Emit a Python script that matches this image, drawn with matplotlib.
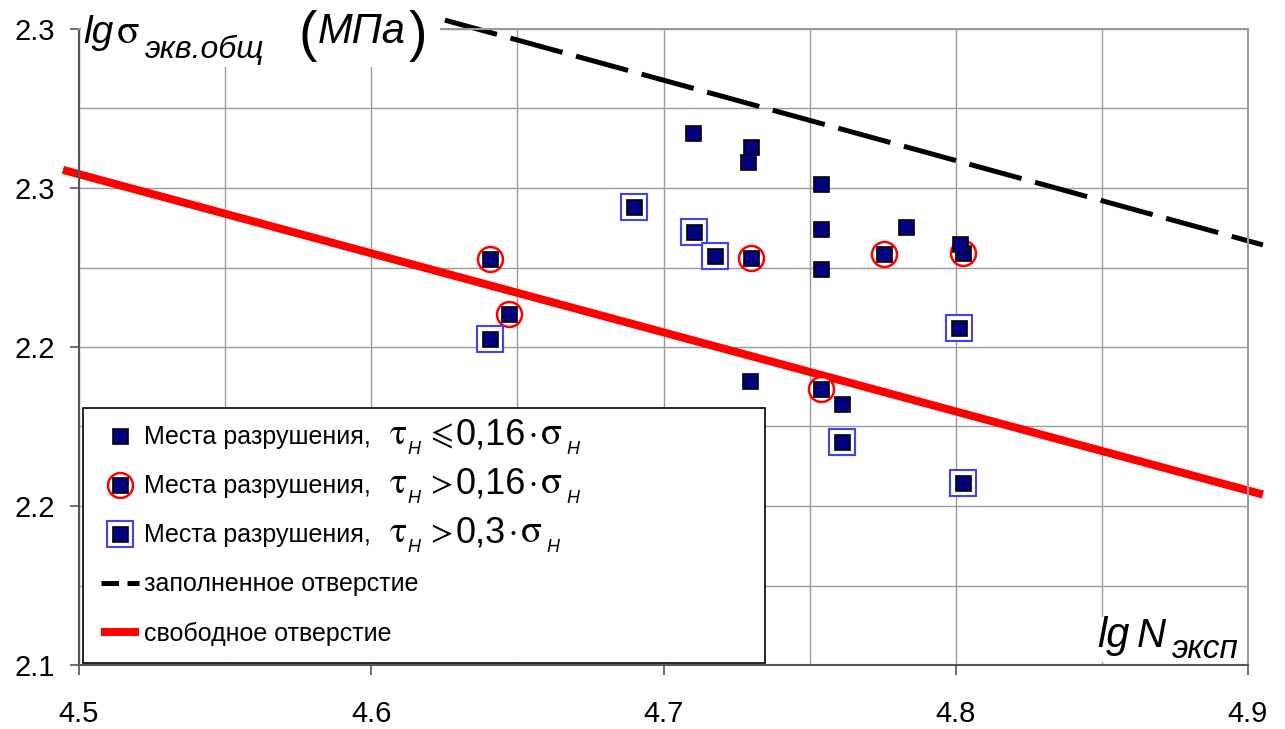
import matplotlib
matplotlib.use('Agg')
import matplotlib.pyplot as plt
from matplotlib.lines import Line2D
from matplotlib.patches import Rectangle
from matplotlib.ticker import MultipleLocator

# ---------------- data ----------------
x_ticks = [4.5, 4.6, 4.7, 4.8, 4.9]
x_tick_labels = ['4.5', '4.6', '4.7', '4.8', '4.9']
y_ticks = [2.1, 2.15, 2.2, 2.25, 2.3]
y_tick_labels = ['2.1', '2.2', '2.2', '2.3', '2.3']

# failure sites, tau <= 0.16 sigma
plain_x = [4.710, 4.730, 4.729, 4.754, 4.754, 4.783, 4.754, 4.8015, 4.7295, 4.761]
plain_y = [2.2673, 2.2629, 2.2582, 2.2513, 2.2371, 2.2378, 2.2246, 2.2324, 2.1894, 2.1821]

# failure sites, tau > 0.16 sigma
red_x = [4.6405, 4.647, 4.730, 4.7755, 4.8025, 4.754]
red_y = [2.2277, 2.2104, 2.2280, 2.2293, 2.2296, 2.1869]

# failure sites, tau > 0.3 sigma
blue_x = [4.690, 4.7105, 4.7175, 4.6405, 4.801, 4.761, 4.8025]
blue_y = [2.2441, 2.2362, 2.2287, 2.2026, 2.2060, 2.1702, 2.1573]

# filled hole (dashed) and free hole (red) lines
filled_x = [4.6252, 4.9051]
filled_y = [2.3028, 2.2321]
free_x = [4.4945, 4.9051]
free_y = [2.2557, 2.1536]

legend_labels = ['Места разрушения,', 'Места разрушения,', 'Места разрушения,',
                 'заполненное отверстие', 'свободное отверстие']
legend_relations = ['⩽', '>', '>']
legend_factors = ['0,16', '0,16', '0,3']

# ---------------- figure ----------------
W, H = 1285, 729
fig = plt.figure(figsize=(W / 100, H / 100), dpi=100)
fig.patch.set_facecolor('white')
L, R, T, B = 79, 1248, 29, 665
ax = fig.add_axes([L / W, 1 - B / H, (R - L) / W, (B - T) / H])
ax.set_xlim(4.5, 4.9)
ax.set_ylim(2.1, 2.3)

NAVY = '#000080'
RED = '#ff0000'
BLUE = '#4040ff'
SANS = 'Liberation Sans'

# grid and ticks
ax.set_xticks(x_ticks)
ax.set_xticklabels(x_tick_labels, fontsize=21, family=SANS)
ax.set_yticks(y_ticks)
ax.set_yticklabels(y_tick_labels, fontsize=21, family=SANS)
ax.xaxis.set_minor_locator(MultipleLocator(0.05))
ax.yaxis.set_minor_locator(MultipleLocator(0.025))
ax.tick_params(axis='x', which='major', length=7, width=1.2, color='#555555', pad=18)
ax.tick_params(axis='y', which='major', length=6.5, width=1.2, color='#555555', pad=11)
ax.tick_params(which='minor', length=0)
ax.grid(True, which='both', color='#9a9a9a', linewidth=1.0)
ax.set_axisbelow(True)
for side in ['left', 'bottom']:
    ax.spines[side].set_color('#555555')
    ax.spines[side].set_linewidth(1.5)
for side in ['top', 'right']:
    ax.spines[side].set_color('#9a9a9a')
    ax.spines[side].set_linewidth(1.5)

# lines
ax.plot(filled_x, filled_y, color='black', lw=3.6, dashes=(10.8, 2.8),
        solid_capstyle='butt', dash_capstyle='butt', clip_on=False, zorder=2)
free_line, = ax.plot(free_x, free_y, color=RED, lw=5.8, solid_capstyle='butt',
                     clip_on=False, zorder=2)

# markers
inner_kw = dict(ls='none', marker='s', ms=10.8, mfc=NAVY, mec='black', mew=1.2)
red_outer, = ax.plot(red_x, red_y, ls='none', marker='o', ms=18, mfc='white',
                     mec=RED, mew=1.8, zorder=3)
red_inner, = ax.plot(red_x, red_y, zorder=4, **inner_kw)
blue_outer, = ax.plot(blue_x, blue_y, ls='none', marker='s', ms=18.5, mfc='white',
                      mec=BLUE, mew=1.5, zorder=3)
blue_inner, = ax.plot(blue_x, blue_y, zorder=4, **inner_kw)
plain_pts, = ax.plot(plain_x, plain_y, zorder=4, **inner_kw)

dash_proxy = Line2D([], [], color='black', lw=3.6, dashes=(3.5, 1.7), dash_capstyle='butt')

leg = ax.legend([plain_pts, (red_outer, red_inner), (blue_outer, blue_inner), dash_proxy, free_line],
                legend_labels, loc='lower left', mode='expand',
                bbox_to_anchor=((83 - L) / (R - L), (B - 663) / (B - T), (765 - 83) / (R - L), 0.4),
                borderaxespad=0, fancybox=False, framealpha=1, edgecolor='black',
                prop={'family': SANS, 'size': 18}, handlelength=1.55, handletextpad=0.2,
                borderpad=0.7, labelspacing=1.0)
leg.get_frame().set_linewidth(1.2)
leg.set_zorder(5)

# white boxes behind the axis titles
fig.add_artist(Rectangle((81 / W, 1 - 67 / H), (440 - 81) / W, 67 / H, transform=fig.transFigure,
                         facecolor='white', edgecolor='none', zorder=2))
fig.add_artist(Rectangle((1095 / W, 1 - 662 / H), (1246 - 1095) / W, (662 - 617) / H,
                         transform=fig.transFigure, facecolor='white', edgecolor='none', zorder=2))


def px_text(x, y, s, size, family=SANS, style='normal'):
    return fig.text(x / W, 1 - y / H, s, fontsize=size, family=family, style=style,
                    ha='left', va='baseline', zorder=6)


fig.canvas.draw()
renderer = fig.canvas.get_renderer()


def right_end(t):
    return t.get_window_extent(renderer).x1


# y axis title
px_text(83, 43, 'lg', 28, style='italic')
px_text(117, 43, 'σ', 30, family='STIXGeneral')
px_text(145, 58, 'экв.общ', 23, style='italic')
px_text(298, 50, '(', 40)
t_mpa = px_text(318, 43, 'МПа', 30, style='italic')
px_text(right_end(t_mpa) + 3, 50, ')', 40)

# x axis title
px_text(1097, 647, 'lg', 30, style='italic')
px_text(1137, 647, 'N', 29, style='italic')
px_text(1172, 658, 'эксп', 24, style='italic')

# math parts of the legend rows, placed after the legend texts
for t, rel, fac in zip(leg.get_texts()[:3], legend_relations, legend_factors):
    bx, by = t.get_transform().transform(t.get_position())
    b = H - by
    x1 = right_end(t)
    px_text(x1 + 19, b, 'τ', 26, family='STIXGeneral')
    px_text(x1 + 36, b + 10, 'H', 13, style='italic')
    px_text(x1 + 59, b, rel, 24, family='STIXGeneral')
    tn = px_text(x1 + 85, b, fac, 26)
    xe = right_end(tn)
    px_text(xe + 2, b, '·', 26, family='STIXGeneral')
    px_text(xe + 15, b, 'σ', 28, family='STIXGeneral')
    px_text(xe + 40, b + 10, 'H', 13, style='italic')

fig.savefig('out.png', dpi=100)
